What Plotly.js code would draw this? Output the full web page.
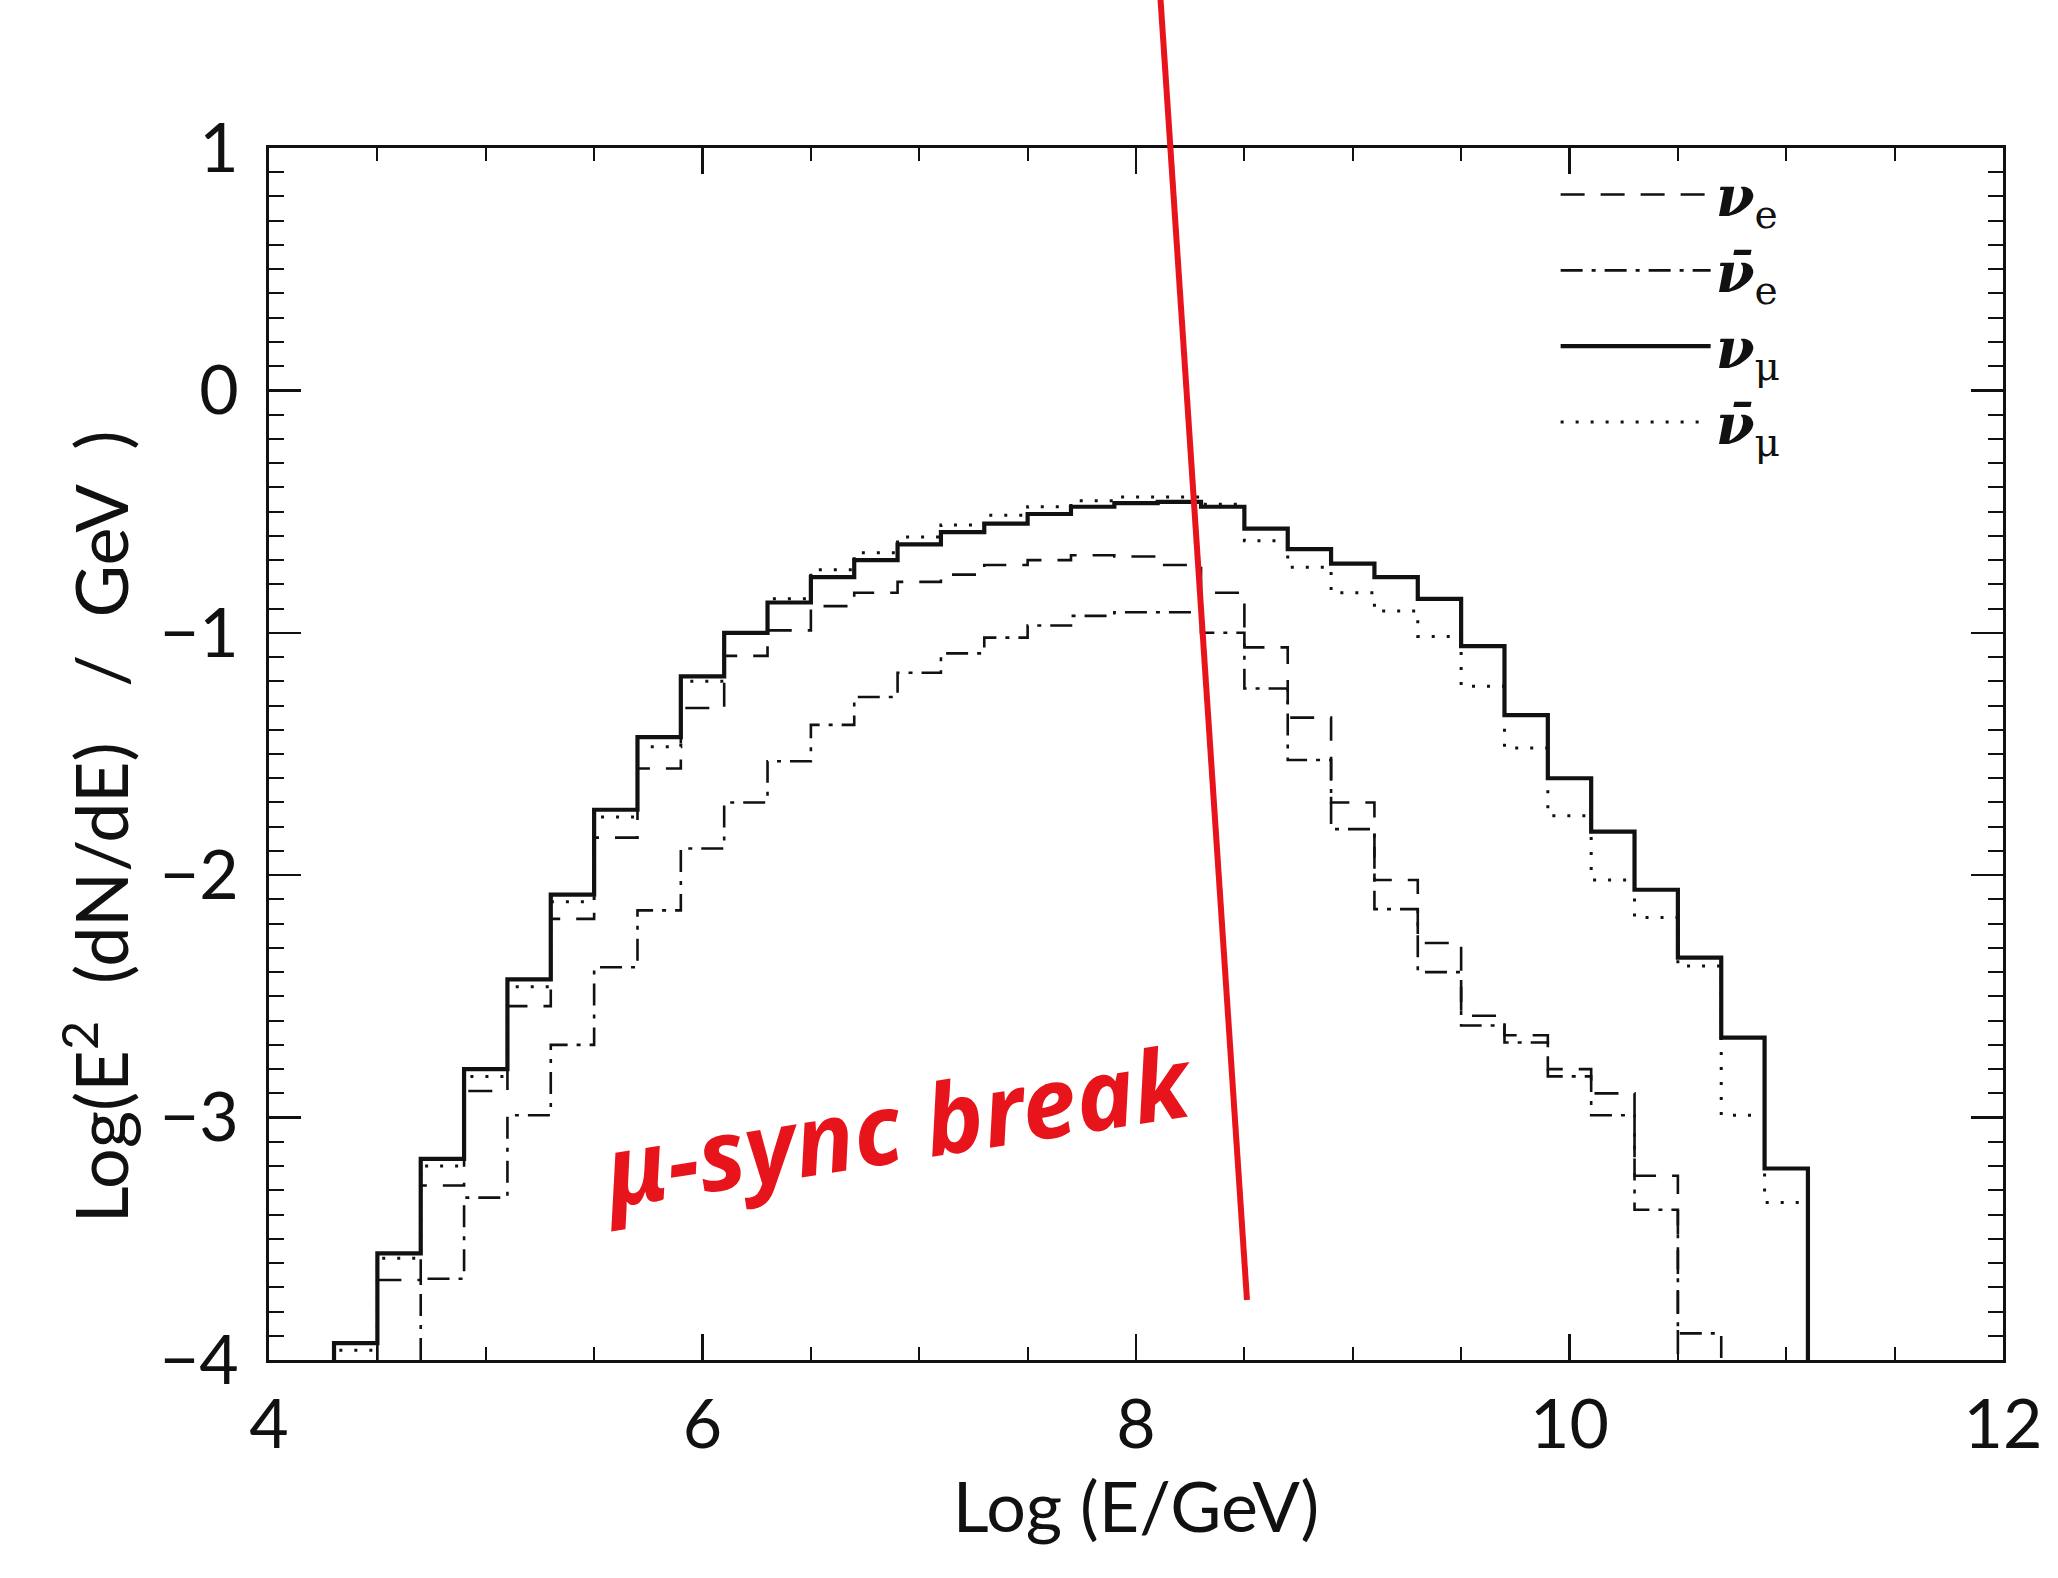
<!DOCTYPE html>
<html>
<head>
<meta charset="utf-8">
<script src="https://cdn.plot.ly/plotly-3.0.1.min.js"></script>
<style>
  html, body { margin: 0; padding: 0; background: #ffffff; }
  #chart { width: 2058px; height: 1578px; }
</style>
</head>
<body>
<div id="chart"></div>
<script>
// ---- data ----
// histogram bin centres in Log(E/GeV), bin width 0.2
const binCenters = [4.4, 4.6, 4.8, 5.0, 5.2, 5.4, 5.6, 5.8, 6.0, 6.2,
                    6.4, 6.6, 6.8, 7.0, 7.2, 7.4, 7.6, 7.8, 8.0, 8.2,
                    8.4, 8.6, 8.8, 9.0, 9.2, 9.4, 9.6, 9.8, 10.0, 10.2,
                    10.4, 10.6, 10.8, 11.0];

// nu_e (dashed)
const nuE = [null, -3.67, -3.28, -2.89, -2.54, -2.18, -1.845, -1.56, -1.31, -1.095,
             -0.99, -0.89, -0.835, -0.79, -0.76, -0.72, -0.70, -0.68, -0.685, -0.72,
             -0.835, -1.06, -1.35, -1.70, -2.02, -2.28, -2.58, -2.66, -2.80, -2.90,
             -3.24, null, null, null];

// anti nu_e (dash-dot)
const nuEBar = [null, null, -3.665, -3.33, -2.99, -2.70, -2.38, -2.145, -1.89, -1.70,
                -1.53, -1.38, -1.265, -1.165, -1.085, -1.02, -0.97, -0.93, -0.915, -0.915,
                -1.00, -1.23, -1.525, -1.81, -2.14, -2.40, -2.62, -2.69, -2.83, -2.99,
                -3.38, -3.89, null, null];

// nu_mu (solid)
const nuMu = [-3.93, -3.56, -3.17, -2.80, -2.43, -2.08, -1.73, -1.43, -1.18, -1.00,
              -0.875, -0.77, -0.70, -0.635, -0.585, -0.55, -0.51, -0.48, -0.465, -0.46,
              -0.48, -0.57, -0.655, -0.715, -0.77, -0.86, -1.055, -1.34, -1.60, -1.82,
              -2.06, -2.34, -2.67, -3.21];

// anti nu_mu (dotted)
const nuMuBar = [-3.96, -3.58, -3.20, -2.83, -2.46, -2.11, -1.76, -1.47, -1.20, -1.00,
                 -0.86, -0.74, -0.67, -0.605, -0.555, -0.515, -0.48, -0.455, -0.44, -0.44,
                 -0.47, -0.62, -0.73, -0.835, -0.91, -1.015, -1.22, -1.475, -1.755, -2.02,
                 -2.175, -2.375, -2.99, -3.35];

const seriesNames = ['<b><i>ν</i></b><sub>e</sub>', '<b><i>ν̄</i></b><sub>e</sub>',
                     '<b><i>ν</i></b><sub>μ</sub>', '<b><i>ν̄</i></b><sub>μ</sub>'];

const xTickVals = [4, 6, 8, 10, 12];
const yTickVals = [-4, -3, -2, -1, 0, 1];
const xRange = [4, 12];
const yRange = [-4, 1];

// ---- build histogram outlines from the bins ----
function stepTrace(vals) {
  const w = binCenters[1] - binCenters[0];
  let first = vals.findIndex(v => v !== null);
  let last = vals.length - 1;
  while (vals[last] === null) last--;
  const xs = [binCenters[first] - w / 2];
  const ys = [yRange[0]];
  for (let i = first; i <= last; i++) {
    xs.push(binCenters[i] - w / 2);
    ys.push(vals[i]);
  }
  xs.push(binCenters[last] + w / 2); ys.push(vals[last]);
  xs.push(binCenters[last] + w / 2); ys.push(yRange[0]);
  return { x: xs, y: ys };
}

const ink = '#111111';
const styles = [
  { dash: '24px,16px', width: 2.6, rank: 1 },
  { dash: '22px,9px,4px,9px', width: 2.6, rank: 2 },
  { dash: 'solid', width: 4.2, rank: 3 },
  { dash: '3px,12px', width: 3, rank: 4 }
];
const seriesData = [nuE, nuEBar, nuMu, nuMuBar];
const drawOrder = [0, 1, 3, 2];

const traces = drawOrder.map(k => {
  const s = stepTrace(seriesData[k]);
  return {
    type: 'scatter', mode: 'lines',
    x: s.x, y: s.y,
    name: seriesNames[k],
    legendrank: styles[k].rank,
    line: { shape: 'hv', color: ink, width: styles[k].width, dash: styles[k].dash },
    hoverinfo: 'skip'
  };
});

const sans = 'Lato, "DejaVu Sans", sans-serif';
const tickFont = { family: sans, size: 68, color: ink };

const layout = {
  width: 2058, height: 1578,
  paper_bgcolor: '#ffffff', plot_bgcolor: '#ffffff',
  margin: { l: 269, r: 55, t: 148, b: 218, pad: 0 },
  showlegend: true,
  legend: {
    x: 0.742, y: 0.997, xanchor: 'left', yanchor: 'top',
    bgcolor: 'rgba(0,0,0,0)', borderwidth: 0,
    itemwidth: 150,
    tracegroupgap: 0,
    font: { family: '"DejaVu Serif", serif', size: 56, color: ink }
  },
  xaxis: {
    range: xRange, tickvals: xTickVals,
    ticks: 'inside', ticklen: 26, tickwidth: 2.5, tickcolor: ink,
    minor: { dtick: 0.5, tick0: 4, ticks: 'inside', ticklen: 13, tickwidth: 2, tickcolor: ink },
    showline: true, linewidth: 2.8, linecolor: ink, mirror: 'allticks',
    showgrid: false, zeroline: false,
    tickfont: tickFont, ticklabelstandoff: 4,
    title: { text: 'Log (E/GeV)', font: { family: sans, size: 70, color: ink }, standoff: 22 }
  },
  yaxis: {
    range: yRange, tickvals: yTickVals,
    ticks: 'inside', ticklen: 32, tickwidth: 2.5, tickcolor: ink,
    minor: { dtick: 0.1, tick0: -4, ticks: 'inside', ticklen: 15, tickwidth: 2, tickcolor: ink },
    showline: true, linewidth: 2.8, linecolor: ink, mirror: 'allticks',
    showgrid: false, zeroline: false,
    tickfont: tickFont, ticklabelstandoff: 14
  },
  annotations: [
    {
      text: 'Log(E<sup>2</sup>  (dN/dE)   /  GeV  )',
      xref: 'paper', yref: 'paper', x: -0.1, y: 0.44,
      xanchor: 'center', yanchor: 'middle', textangle: -90, showarrow: false,
      font: { family: sans, size: 72, color: ink }
    },
    {
      text: '<b><i>μ-sync break</i></b>',
      xref: 'paper', yref: 'paper', x: 0.362, y: 0.195,
      xanchor: 'center', yanchor: 'middle', textangle: -9, showarrow: false,
      font: { family: '"Noto Sans", sans-serif', size: 98, color: '#e8141c' }
    }
  ],
  shapes: [
    {
      type: 'line', xref: 'paper', yref: 'paper',
      x0: 0.5138, y0: 1.13, x1: 0.564, y1: 0.0495,
      line: { color: '#e8141c', width: 6 }
    }
  ]
};

Plotly.newPlot('chart', traces, layout, { displayModeBar: false, staticPlot: true });
</script>
</body>
</html>
